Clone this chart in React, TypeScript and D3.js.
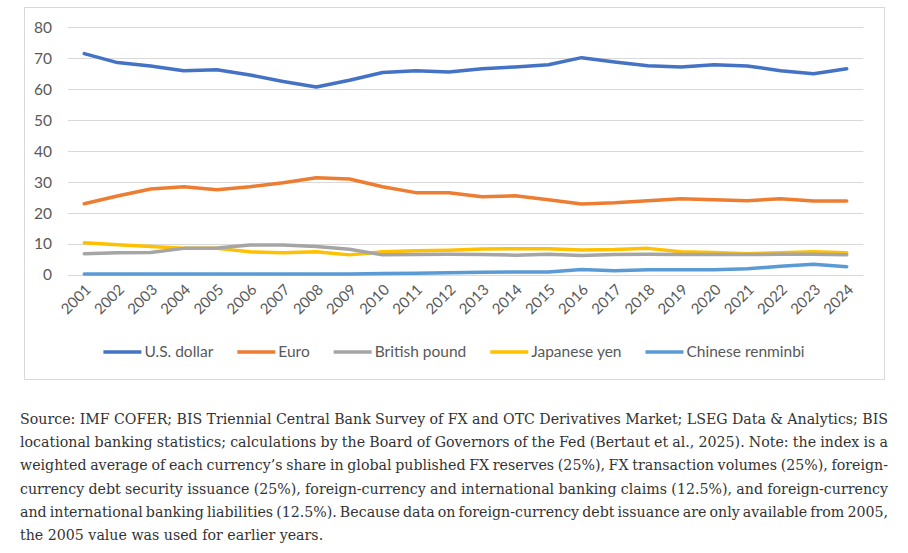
import { useEffect, useRef } from 'react'
import * as d3 from 'd3'

// ── data ─────────────────────────────────────────────────────────────────────
const YEARS = [
  '2001', '2002', '2003', '2004', '2005', '2006', '2007', '2008', '2009', '2010', '2011', '2012',
  '2013', '2014', '2015', '2016', '2017', '2018', '2019', '2020', '2021', '2022', '2023', '2024',
]
const USD = [71.5, 68.6, 67.5, 66.0, 66.3, 64.6, 62.5, 60.7, 62.9, 65.4, 66.0, 65.6, 66.6, 67.2, 67.9, 70.2, 68.8, 67.6, 67.2, 67.9, 67.5, 66.0, 65.0, 66.6]
const EUR = [23.0, 25.5, 27.8, 28.5, 27.5, 28.5, 29.8, 31.4, 31.0, 28.5, 26.6, 26.6, 25.3, 25.6, 24.3, 22.9, 23.3, 24.0, 24.6, 24.3, 24.0, 24.6, 23.9, 23.9]
const GBP = [6.9, 7.2, 7.3, 8.6, 8.7, 9.7, 9.7, 9.2, 8.3, 6.5, 6.6, 6.7, 6.6, 6.4, 6.7, 6.3, 6.6, 6.7, 6.6, 6.6, 6.6, 6.7, 6.7, 6.5]
const JPY = [10.4, 9.8, 9.2, 8.6, 8.6, 7.5, 7.2, 7.5, 6.5, 7.5, 7.8, 8.0, 8.4, 8.5, 8.5, 8.1, 8.2, 8.6, 7.5, 7.3, 6.9, 7.2, 7.5, 7.2]
const CNY = [0.3, 0.3, 0.3, 0.3, 0.3, 0.3, 0.3, 0.3, 0.3, 0.5, 0.6, 0.7, 0.9, 1.0, 1.0, 1.8, 1.4, 1.7, 1.7, 1.7, 2.0, 2.8, 3.5, 2.7]
const Y_TICKS = [0, 10, 20, 30, 40, 50, 60, 70, 80]

const SERIES = [
  { name: 'U.S. dollar',       values: USD, color: '#4472C4' },
  { name: 'Euro',              values: EUR, color: '#ED7D31' },
  { name: 'British pound',     values: GBP, color: '#A5A5A5' },
  { name: 'Japanese yen',      values: JPY, color: '#FFC000' },
  { name: 'Chinese renminbi',  values: CNY, color: '#5B9BD5' },
]

const NOTE_LINES = [
  'Source: IMF COFER; BIS Triennial Central Bank Survey of FX and OTC Derivatives Market; LSEG Data & Analytics; BIS',
  'locational banking statistics; calculations by the Board of Governors of the Fed (Bertaut et al., 2025). Note: the index is a',
  'weighted average of each currency\u2019s share in global published FX reserves (25%), FX transaction volumes (25%), foreign-',
  'currency debt security issuance (25%), foreign-currency and international banking claims (12.5%), and foreign-currency',
  'and international banking liabilities (12.5%). Because data on foreign-currency debt issuance are only available from 2005,',
  'the 2005 value was used for earlier years.',
]

// ── layout ───────────────────────────────────────────────────────────────────
const W = 908
const H = 553
const BOX = { x: 24, y: 7, w: 860, h: 372 }
const PLOT = { left: 67.7, right: 863.3, top: 27.3, bottom: 275 }
const AXIS_FONT = 'Lato, "Open Sans", sans-serif'
const CTXT = '#595959'
const CGRID = '#D9D9D9'
const NOTE = { x: 20, right: 888, y0: 424, dy: 23.2 }

export default function App() {
  const ref = useRef<SVGSVGElement>(null)

  useEffect(() => {
    if (!ref.current) return
    const svg = d3.select(ref.current)
    svg.selectAll('*').remove()

    svg.append('rect').attr('width', W).attr('height', H).attr('fill', '#fff')

    // chart frame
    svg.append('rect')
      .attr('x', BOX.x + 0.5).attr('y', BOX.y + 0.5)
      .attr('width', BOX.w).attr('height', BOX.h)
      .attr('fill', '#fff').attr('stroke', CGRID).attr('stroke-width', 1)

    const x = d3.scalePoint<string>().domain(YEARS).range([PLOT.left, PLOT.right]).padding(0.5)
    const y = d3.scaleLinear().domain([0, 80]).range([PLOT.bottom, PLOT.top])

    // ── grid + y labels ───────────────────────────────────────────────────
    svg.append('g')
      .selectAll('line')
      .data(Y_TICKS)
      .join('line')
        .attr('x1', PLOT.left).attr('x2', PLOT.right)
        .attr('y1', v => Math.round(y(v)) + 0.5).attr('y2', v => Math.round(y(v)) + 0.5)
        .attr('stroke', CGRID).attr('stroke-width', 1)

    svg.append('g')
      .selectAll('text')
      .data(Y_TICKS)
      .join('text')
        .attr('x', 52).attr('y', v => y(v))
        .attr('dy', '0.35em')
        .attr('text-anchor', 'end')
        .attr('fill', CTXT).attr('font-family', AXIS_FONT).attr('font-size', 15.5)
        .text(v => v)

    // ── x labels (rotated) ───────────────────────────────────────────────
    svg.append('g')
      .selectAll('text')
      .data(YEARS)
      .join('text')
        .attr('transform', d => `translate(${(x(d) ?? 0) + 4},${PLOT.bottom + 12}) rotate(-45)`)
        .attr('text-anchor', 'end')
        .attr('dy', '0.35em')
        .attr('fill', CTXT).attr('font-family', AXIS_FONT).attr('font-size', 15)
        .text(d => d)

    // ── lines ─────────────────────────────────────────────────────────────
    const line = d3.line<number>()
      .x((_, i) => x(YEARS[i]) ?? 0)
      .y(v => y(v))

    ;[...SERIES].reverse().forEach(s => {
      svg.append('path').datum(s.values)
        .attr('fill', 'none').attr('stroke', s.color)
        .attr('stroke-width', 3.5).attr('stroke-linejoin', 'round').attr('stroke-linecap', 'round')
        .attr('d', d => line(d) ?? '')
    })

    // ── legend ────────────────────────────────────────────────────────────
    const lg = svg.append('g')
    const items = SERIES.map(s => {
      const g = lg.append('g')
      g.append('line')
        .attr('x1', 0).attr('x2', 38).attr('y1', 0).attr('y2', 0)
        .attr('stroke', s.color).attr('stroke-width', 3.5)
      const t = g.append('text')
        .attr('x', 41).attr('dy', '0.35em')
        .attr('fill', CTXT).attr('font-family', AXIS_FONT).attr('font-size', 15.5)
        .text(s.name)
      const w = 41 + (t.node() as SVGTextElement).getComputedTextLength()
      return { g, w }
    })
    const gap = 24
    const total = d3.sum(items, d => d.w) + gap * (items.length - 1)
    let cx = (BOX.x + BOX.x + BOX.w) / 2 - total / 2
    items.forEach(it => {
      it.g.attr('transform', `translate(${cx},352)`)
      cx += it.w + gap
    })

    // ── note (justified) ──────────────────────────────────────────────────
    const note = svg.append('g')
    NOTE_LINES.forEach((txt, i) => {
      const t = note.append('text')
        .attr('x', NOTE.x).attr('y', NOTE.y0 + i * NOTE.dy)
        .attr('fill', '#333').attr('font-family', '"DejaVu Serif", serif').attr('font-size', 14.2)
        .text(txt)
      if (i < NOTE_LINES.length - 1) {
        const w = (t.node() as SVGTextElement).getComputedTextLength()
        const spaces = (txt.match(/ /g) || []).length
        if (spaces > 0) t.attr('word-spacing', (NOTE.right - NOTE.x - w) / spaces)
      }
    })
  }, [])

  return (
    <svg
      ref={ref}
      width={W}
      height={H}
      viewBox={`0 0 ${W} ${H}`}
      style={{ position: 'absolute', left: 0, top: 0, display: 'block' }}
    />
  )
}
